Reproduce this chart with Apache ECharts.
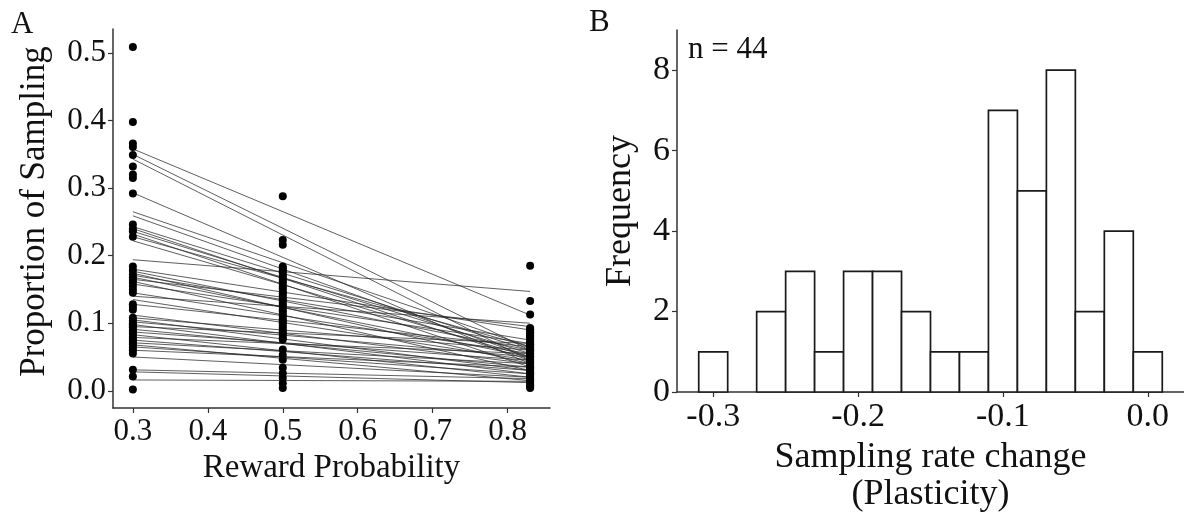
<!DOCTYPE html>
<html>
<head>
<meta charset="utf-8">
<script src="https://cdn.jsdelivr.net/npm/echarts@6/dist/echarts.min.js"></script>
<style>html,body{margin:0;padding:0;background:#fff}#c{width:1184px;height:518px}</style>
</head>
<body>
<div id="c"></div>
<script>
// ---------- Panel A data ----------
var rewardLevels = [0.3, 0.5, 0.83];
var samp03 = [0.509,0.398,0.366,0.361,0.349,0.332,0.320,0.315,0.292,0.246,0.240,0.236,0.228,0.184,0.178,0.172,0.168,0.164,0.160,0.155,0.150,0.145,0.128,0.124,0.120,0.108,0.104,0.100,0.097,0.094,0.090,0.087,0.084,0.080,0.077,0.074,0.071,0.068,0.064,0.060,0.055,0.031,0.021,0.002];
var samp05 = [0.288,0.223,0.216,0.184,0.181,0.178,0.175,0.171,0.168,0.164,0.161,0.158,0.154,0.151,0.147,0.144,0.141,0.137,0.134,0.130,0.127,0.124,0.120,0.117,0.113,0.110,0.106,0.103,0.100,0.096,0.093,0.089,0.086,0.083,0.079,0.076,0.061,0.053,0.046,0.034,0.026,0.019,0.011,0.004];
var samp083 = [0.185,0.133,0.113,0.093,0.091,0.089,0.087,0.085,0.082,0.080,0.078,0.076,0.073,0.071,0.069,0.067,0.064,0.062,0.060,0.058,0.055,0.053,0.051,0.049,0.046,0.044,0.042,0.040,0.037,0.035,0.033,0.031,0.028,0.026,0.024,0.022,0.019,0.017,0.015,0.013,0.010,0.008,0.006,0.004];
// fitted line per subject: value at 0.3 and value at 0.83
var fitStart = [0.358,0.350,0.343,0.293,0.265,0.259,0.243,0.240,0.236,0.232,0.228,0.222,0.194,0.180,0.177,0.174,0.171,0.168,0.165,0.162,0.158,0.145,0.140,0.135,0.128,0.112,0.108,0.105,0.102,0.098,0.095,0.091,0.087,0.083,0.079,0.075,0.071,0.068,0.065,0.060,0.050,0.031,0.028,0.016];
var fitEnd   = [0.112,0.060,0.045,0.040,0.065,0.050,0.060,0.045,0.055,0.035,0.065,0.050,0.147,0.090,0.060,0.040,0.075,0.050,0.095,0.030,0.070,0.055,0.100,0.045,0.065,0.040,0.060,0.030,0.050,0.025,0.070,0.035,0.045,0.020,0.055,0.030,0.040,0.015,0.025,0.035,0.020,0.018,0.012,0.014];
var ticksAx = [0.3,0.4,0.5,0.6,0.7,0.8];
var ticksAy = [0.0,0.1,0.2,0.3,0.4,0.5];

// ---------- Panel B data ----------
var binCenters = [-0.30,-0.28,-0.26,-0.24,-0.22,-0.20,-0.18,-0.16,-0.14,-0.12,-0.10,-0.08,-0.06,-0.04,-0.02,0.00];
var binCounts  = [1,0,2,3,1,3,3,2,1,1,7,5,8,2,4,1];
var binWidth = 0.02;
var ticksBx = [-0.3,-0.2,-0.1,0.0];
var ticksBy = [0,2,4,6,8];

var FONT = '"Liberation Serif","DejaVu Serif",serif';
var AX = '#333';

var scatterData = [];
[samp03, samp05, samp083].forEach(function(arr, k){
  arr.forEach(function(v){ scatterData.push([rewardLevels[k], v]); });
});
var lineData = fitStart.map(function(s, i){
  return {coords: [[rewardLevels[0], s], [rewardLevels[2], fitEnd[i]]]};
});
var histData = binCenters.map(function(c, i){ return [c, binCounts[i]]; });

function axisCommon(fs){
  return {
    axisLine: {show: true, onZero: false, lineStyle: {color: AX, width: 1.5}},
    axisTick: {show: true, length: 5, lineStyle: {color: AX, width: 1.2}},
    splitLine: {show: false},
    axisLabel: {color: '#111', fontFamily: FONT, fontSize: fs},
    nameTextStyle: {color: '#111', fontFamily: FONT}
  };
}

var xA = Object.assign(axisCommon(31), {
  type: 'value', gridIndex: 0, min: 0.2735, max: 0.8565,
  name: 'Reward Probability', nameLocation: 'middle', nameGap: 34,
  nameTextStyle: {color: '#111', fontFamily: FONT, fontSize: 33}
});
xA.axisLabel = {color: '#111', fontFamily: FONT, fontSize: 31, margin: 8, customValues: ticksAx, formatter: function(v){return v.toFixed(1);}};
xA.axisTick.customValues = ticksAx;

var yA = Object.assign(axisCommon(31), {
  type: 'value', gridIndex: 0, min: -0.0255, max: 0.5355,
  name: 'Proportion of Sampling', nameLocation: 'middle', nameGap: 61,
  nameTextStyle: {color: '#111', fontFamily: FONT, fontSize: 35, padding: [0, 0, 0, 14]}
});
yA.axisLabel = {color: '#111', fontFamily: FONT, fontSize: 31, margin: 7, customValues: ticksAy, formatter: function(v){return v.toFixed(1);}};
yA.axisTick.customValues = ticksAy;

var xB = Object.assign(axisCommon(34), {
  type: 'value', gridIndex: 1, min: -0.325, max: 0.025,
  name: 'Sampling rate change\n(Plasticity)', nameLocation: 'middle', nameGap: 47,
  nameTextStyle: {color: '#111', fontFamily: FONT, fontSize: 36, lineHeight: 37}
});
xB.axisLabel = {color: '#111', fontFamily: FONT, fontSize: 34, margin: 8, customValues: ticksBx, formatter: function(v){return v.toFixed(1);}};
xB.axisTick.customValues = ticksBx;

var yB = Object.assign(axisCommon(34), {
  type: 'value', gridIndex: 1, min: 0, max: 9,
  name: 'Frequency', nameLocation: 'middle', nameGap: 38,
  nameTextStyle: {color: '#111', fontFamily: FONT, fontSize: 36}
});
yB.axisLabel = {color: '#111', fontFamily: FONT, fontSize: 34, margin: 7, customValues: ticksBy};
yB.axisTick.customValues = ticksBy;

var option = {
  animation: false,
  backgroundColor: '#fff',
  grid: [
    {left: 113, width: 437, top: 29, height: 379},
    {left: 677, width: 507, top: 30, height: 378}
  ],
  xAxis: [xA, xB],
  yAxis: [yA, yB],
  graphic: [
    {type: 'text', left: 11, top: 9, style: {text: 'A', font: '31px ' + FONT, fill: '#111'}},
    {type: 'text', left: 589, top: 7, style: {text: 'B', font: '31px ' + FONT, fill: '#111'}},
    {type: 'text', left: 688, top: 34, style: {text: 'n = 44', font: '31px ' + FONT, fill: '#111'}}
  ],
  series: [
    {
      type: 'lines', coordinateSystem: 'cartesian2d', xAxisIndex: 0, yAxisIndex: 0,
      polyline: false, silent: true, z: 2,
      lineStyle: {color: '#2a2a2a', width: 1, opacity: 0.75},
      data: lineData
    },
    {
      type: 'scatter', xAxisIndex: 0, yAxisIndex: 0, symbolSize: 8, z: 3,
      itemStyle: {color: '#000', opacity: 1},
      data: scatterData
    },
    {
      type: 'custom', xAxisIndex: 1, yAxisIndex: 1, z: 2,
      renderItem: function(params, api){
        var c = api.value(0), n = api.value(1);
        if (!n) return null;
        var p0 = api.coord([c - binWidth/2, n]);
        var p1 = api.coord([c + binWidth/2, 0]);
        return {type: 'rect', shape: {x: p0[0], y: p0[1], width: p1[0]-p0[0], height: p1[1]-p0[1]},
                style: {fill: '#fff', stroke: '#1a1a1a', lineWidth: 1.7}};
      },
      data: histData
    }
  ]
};
var chart = echarts.init(document.getElementById('c'), null, {renderer: 'canvas'});
chart.setOption(option);
</script>
</body>
</html>
